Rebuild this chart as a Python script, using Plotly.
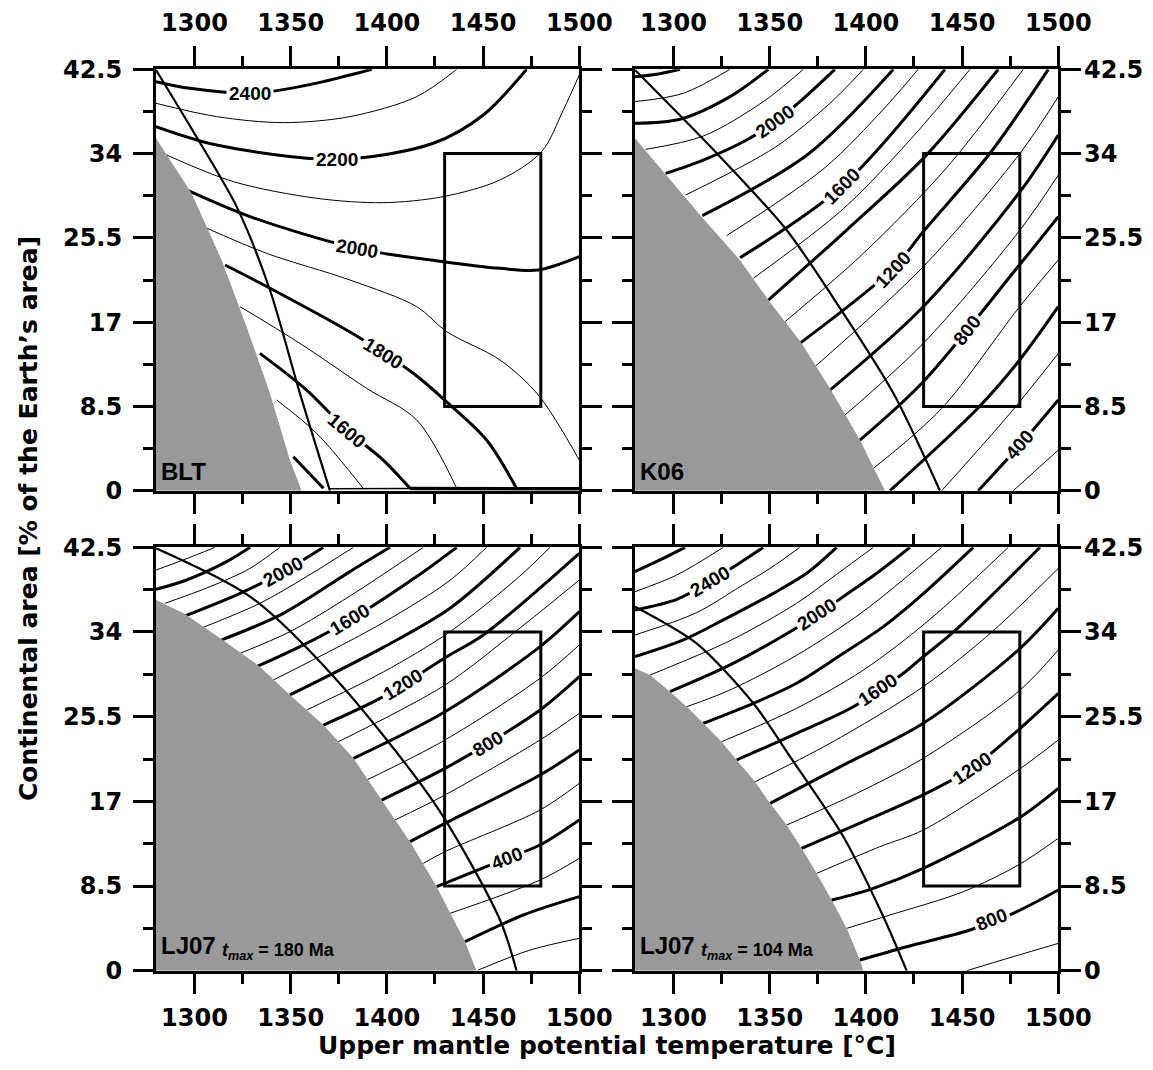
import plotly.graph_objects as go

# ---------------- axes ----------------
T_RANGE = [1280, 1500]
A_RANGE = [0, 42.5]
T_TICKS = [1300, 1350, 1400, 1450, 1500]
T_MINOR = [1325, 1375, 1425, 1475]
A_TICKS = [0, 8.5, 17, 25.5, 34, 42.5]
A_TICK_TEXT = ["0", "8.5", "17", "25.5", "34", "42.5"]
A_MINOR = [4.25, 12.75, 21.25, 29.75, 38.25]

BOX_T = [1430, 1480]
BOX_A = [8.5, 34]

# ---------------- BLT ----------------
BLT_GREY_T = [1280, 1298.5, 1314.1, 1327.1, 1339.2, 1349.6, 1355.7]
BLT_GREY_A = [35.54, 29.99, 23.27, 16.54, 9.82, 3.09, 0]
BLT_CURVE_T = [1280, 1299.4, 1321.9, 1339.2, 1354.8, 1370.4]
BLT_CURVE_A = [42.43, 36.21, 28.65, 20.24, 9.82, 0]
BLT_CONTOURS = {
    2400: ([1280, 1297.7, 1328.9, 1342.7, 1367.0, 1392.1], [41.26, 40.58, 40.08, 40.35, 41.26, 42.5]),
    2300: ([1280, 1311.5, 1346.2, 1380.8, 1415.5, 1436.3], [39.07, 37.73, 37.12, 37.73, 39.74, 42.5]),
    2200: ([1280, 1311.5, 1373.9, 1424.1, 1450.1, 1472.6], [36.72, 34.87, 33.42, 35.04, 37.89, 42.5]),
    2100: ([1285.5, 1320.2, 1363.5, 1398.1, 1429.3, 1458.8, 1480.4, 1491.7, 1500],
           [33.86, 31.17, 29.49, 29.05, 29.66, 31.34, 34.19, 38.40, 41.93]),
    2000: ([1295.9, 1328.9, 1384.3, 1429.3, 1458.8, 1478.7, 1500], [30.33, 27.64, 24.44, 23.10, 22.43, 22.26, 23.60]),
    1900: ([1304.6, 1337.5, 1380.8, 1415.5, 1431.1, 1458.8, 1478.7, 1500],
           [26.63, 23.94, 21.25, 18.56, 16.04, 13.18, 9.65, 3.09]),
    1800: ([1315.9, 1342.7, 1382.6, 1413.7, 1431.9, 1451.8, 1467.4], [22.76, 20.07, 15.80, 11.84, 8.81, 5.11, 0.24]),
    1700: ([1323.7, 1354.8, 1389.5, 1415.5, 1436.3], [18.56, 14.86, 10.32, 7.13, 0.24]),
    1600: ([1334.0, 1358.3, 1379.1, 1398.1, 1412.0], [13.85, 10.15, 6.12, 3.09, 0.24]),
    1500: ([1342.7, 1363.5, 1387.7], [9.15, 5.78, 0.24]),
    1400: ([1351.4, 1367.0], [3.43, 0.24]),
}
# contours crowding along the zero-area edge
BLT_BASE_THIN_T = [1370.4, 1412.0]
BLT_BASE_THIN_A = [0.2, 0.22]
BLT_BASE_THICK_T = [1412.0, 1467.4, 1500]
BLT_BASE_THICK_A = [0.22, 0.25, 0.2]
BLT_LABELS = [("2400", 1328.9, 40.08, 0), ("2200", 1373.9, 33.42, 0), ("2000", 1384.3, 24.44, 9),
              ("1800", 1398.1, 13.85, 32), ("1600", 1379.1, 6.12, 40)]

# ---------------- K06 ----------------
K06_GREY_T = [1280, 1295.6, 1314.6, 1334.5, 1349.3, 1366.6, 1381.3, 1396.9, 1409.9]
K06_GREY_A = [35.54, 32.0, 27.64, 23.27, 19.23, 14.86, 10.32, 5.11, 0]
K06_CURVE_T = [1280, 1324.2, 1358.8, 1388.3, 1414.3, 1438.5]
K06_CURVE_A = [42.43, 33.69, 26.29, 17.89, 9.82, 0]
K06_CONTOURS = {
    2400: ([1280, 1291.3, 1303.4], [41.76, 42.0, 42.5]),
    2300: ([1280, 1305.1, 1329.4], [39.24, 40.08, 42.5]),
    2200: ([1280, 1303.4, 1329.4, 1349.3], [37.05, 37.46, 39.74, 42.5]),
    2100: ([1285.5, 1315.5, 1346.7, 1367.5], [34.43, 35.77, 39.24, 42.5]),
    2000: ([1295.9, 1315.5, 1338.0, 1352.8, 1365.7, 1383.9], [32.01, 33.35, 35.37, 37.22, 39.24, 42.5]),
    1900: ([1306.3, 1352.8, 1381.3, 1398.7], [29.82, 34.63, 39.07, 42.5]),
    1800: ([1315.0, 1370.1, 1414.3], [27.74, 33.96, 42.5]),
    1700: ([1327.6, 1378.7, 1409.1, 1427.2], [25.72, 32.58, 38.47, 42.5]),
    1600: ([1334.6, 1387.4, 1441.1], [23.50, 30.66, 42.5]),
    1500: ([1341.5, 1388.3, 1424.6, 1454.1], [21.42, 28.44, 35.74, 42.5]),
    1400: ([1349.3, 1390.0, 1430.7, 1468.8], [19.23, 26.29, 33.69, 42.5]),
    1300: ([1358.0, 1398.7, 1442.0, 1481.8], [17.05, 23.94, 32.58, 42.5]),
    1200: ([1365.7, 1414.3, 1429.8, 1464.5, 1494.8], [14.86, 22.43, 26.13, 34.03, 42.5]),
    1100: ([1373.5, 1429.8, 1480.1, 1500], [12.51, 22.59, 34.03, 39.74]),
    1000: ([1381.3, 1429.8, 1480.1, 1500], [10.15, 18.56, 30.16, 35.88]),
    900: ([1389.1, 1429.8, 1480.1, 1500], [7.63, 14.86, 26.29, 31.84]),
    800: ([1396.9, 1429.8, 1478.4, 1500], [5.11, 10.99, 22.43, 27.64]),
    700: ([1403.9, 1439.4, 1479.2, 1500], [2.25, 8.30, 18.39, 23.27]),
    600: ([1412.5, 1458.4, 1479.2, 1500], [0, 8.37, 13.01, 18.56]),
    500: ([1439.4, 1474.9, 1500], [0, 7.80, 13.85]),
    400: ([1458.4, 1480.1, 1500], [0, 4.61, 9.15]),
    300: ([1476.6, 1500], [0, 4.10]),
}
K06_LABELS = [("2000", 1352.8, 37.22, -36), ("1600", 1387.4, 30.66, -45), ("1200", 1414.3, 22.3, -47),
              ("800", 1452.4, 16.2, -52), ("400", 1480.1, 4.61, -49)]

# ---------------- LJ07, t_max = 180 Ma ----------------
L180_GREY_T = [1280, 1295.1, 1314.1, 1334.0, 1349.6, 1367.0, 1382.6, 1397.3, 1412.0, 1425.9, 1440.6, 1446.6]
L180_GREY_A = [37.21, 35.81, 33.26, 30.52, 27.68, 24.66, 21.32, 17.13, 12.95, 8.43, 2.91, 0]
L180_CURVE_T = [1280, 1328.9, 1373.9, 1425.9, 1458.8, 1467.4]
L180_CURVE_A = [42.40, 37.55, 29.18, 16.47, 5.09, 0]
L180_CONTOURS = {
    2300: ([1280, 1294.2, 1310.7], [40.22, 41.23, 42.5]),
    2200: ([1280, 1295.9, 1316.7, 1328.9], [38.28, 39.22, 41.06, 42.5]),
    2100: ([1284.7, 1308.1, 1328.9, 1344.4], [36.88, 38.55, 40.39, 42.5]),
    2000: ([1295.1, 1323.7, 1346.2, 1367.0], [35.61, 37.88, 40.06, 42.5]),
    1900: ([1304.6, 1334.0, 1358.3, 1382.6], [34.47, 36.88, 39.56, 42.5]),
    1800: ([1314.1, 1346.2, 1380.8, 1401.6], [33.20, 35.87, 40.06, 42.5]),
    1700: ([1323.7, 1349.6, 1380.8, 1418.9], [31.86, 34.03, 37.61, 42.5]),
    1600: ([1332.3, 1354.8, 1380.8, 1415.5, 1436.3], [30.52, 32.53, 35.21, 39.56, 42.5]),
    1500: ([1341.0, 1398.1, 1432.8, 1451.8], [29.18, 34.94, 39.19, 42.5]),
    1400: ([1349.6, 1398.1, 1432.8, 1469.2], [27.68, 32.46, 36.38, 42.5]),
    1300: ([1358.3, 1398.1, 1432.8, 1467.4, 1484.8], [26.17, 29.98, 34.03, 39.32, 42.5]),
    1200: ([1367.0, 1398.1, 1431.1, 1450.1, 1500], [24.66, 27.51, 31.52, 33.70, 41.90]),
    1100: ([1374.8, 1430.2, 1467.4, 1500], [22.99, 28.68, 34.13, 39.22]),
    1000: ([1382.6, 1430.2, 1479.6, 1500], [21.32, 26.00, 32.53, 36.04]),
    900: ([1389.5, 1430.2, 1479.6, 1500], [19.14, 23.16, 29.35, 32.70]),
    800: ([1397.3, 1430.2, 1452.7, 1479.6, 1500], [17.13, 20.31, 22.82, 26.17, 29.52]),
    700: ([1404.2, 1430.2, 1479.6, 1500], [15.13, 17.64, 23.16, 25.83]),
    600: ([1412.0, 1430.2, 1479.6, 1500], [12.95, 14.79, 19.64, 22.15]),
    500: ([1418.9, 1430.2, 1479.6, 1500], [10.78, 11.95, 16.13, 18.81]),
    400: ([1425.9, 1462.2, 1479.6, 1500], [8.43, 11.28, 12.62, 15.13]),
    300: ([1432.8, 1479.6, 1500], [5.76, 9.10, 11.28]),
    200: ([1440.6, 1470.9, 1500], [2.91, 5.59, 7.43]),
    100: ([1447.5, 1474.4, 1500], [0.07, 2.07, 3.25]),
}
L180_LABELS = [("2000", 1346.2, 40.06, -29), ("1600", 1380.8, 35.21, -31), ("1200", 1408.5, 28.68, -32),
               ("800", 1452.7, 22.82, -31), ("400", 1462.2, 11.28, -21)]

# ---------------- LJ07, t_max = 104 Ma ----------------
L104_GREY_T = [1280, 1287.8, 1298.2, 1306.9, 1315.5, 1325.0, 1332.8, 1342.4, 1350.2, 1358.8, 1366.6,
               1374.4, 1382.2, 1390.0, 1396.9, 1398.7]
L104_GREY_A = [30.35, 29.68, 28.01, 26.50, 24.83, 22.99, 21.15, 18.97, 16.80, 14.62, 12.28,
               9.77, 7.09, 4.25, 1.07, 0]
L104_CURVE_T = [1280, 1312.0, 1341.5, 1360.6, 1388.3, 1409.1, 1421.2]
L104_CURVE_A = [36.54, 32.86, 26.84, 21.48, 13.45, 5.42, 0]
L104_CONTOURS = {
    2600: ([1280, 1293.0, 1306.0], [40.06, 41.23, 42.5]),
    2500: ([1280, 1301.7, 1325.9], [38.05, 39.72, 42.5]),
    2400: ([1280, 1301.7, 1319.0, 1334.6, 1346.7], [36.21, 37.28, 39.05, 40.96, 42.5]),
    2300: ([1280, 1312.0, 1334.6, 1350.2, 1365.7], [33.70, 35.94, 38.55, 40.39, 42.5]),
    2200: ([1280, 1305.1, 1325.9, 1351.9, 1369.2, 1384.8], [31.52, 33.20, 35.21, 37.88, 39.89, 42.5]),
    2100: ([1287.8, 1329.4, 1364.0, 1384.8, 1403.9], [29.68, 33.13, 36.88, 39.79, 42.5]),
    2000: ([1298.2, 1329.4, 1360.6, 1374.4, 1388.3, 1405.6, 1422.9], [28.01, 30.69, 34.03, 35.71, 37.55, 39.89, 42.5]),
    1900: ([1306.9, 1329.4, 1364.0, 1398.7, 1439.4], [26.50, 28.18, 31.66, 36.07, 42.5]),
    1800: ([1315.5, 1341.5, 1364.0, 1388.3, 1409.1, 1428.1, 1455.8], [24.83, 26.84, 28.85, 31.86, 34.54, 37.55, 42.5]),
    1700: ([1325.0, 1364.0, 1398.7, 1433.3, 1474.0], [22.99, 26.34, 30.18, 35.27, 42.5]),
    1600: ([1332.8, 1364.0, 1393.5, 1419.5, 1429.8, 1446.3, 1490.5], [21.15, 23.83, 26.50, 29.85, 31.52, 34.13, 42.5]),
    1500: ([1342.4, 1381.3, 1429.8, 1466.2, 1500], [18.97, 22.82, 28.51, 34.13, 40.39]),
    1400: ([1350.2, 1390.0, 1429.8, 1479.2, 1500], [16.80, 20.81, 24.83, 32.19, 36.38]),
    1300: ([1358.8, 1395.2, 1429.8, 1479.2, 1500], [14.62, 17.80, 21.32, 28.01, 32.19]),
    1200: ([1366.6, 1398.7, 1429.8, 1455.0, 1479.2, 1500], [12.28, 14.96, 17.64, 20.31, 24.16, 27.84]),
    1100: ([1374.4, 1407.3, 1429.8, 1479.2, 1500], [9.77, 12.45, 14.12, 20.15, 23.16]),
    1000: ([1382.2, 1403.9, 1429.8, 1479.2, 1500], [7.09, 8.27, 10.27, 15.29, 18.31]),
    900: ([1390.0, 1412.5, 1450.6, 1479.2, 1500], [4.25, 5.59, 7.93, 10.61, 13.29]),
    800: ([1396.9, 1421.2, 1454.1, 1476.6, 1500], [1.07, 2.41, 4.08, 5.76, 8.10]),
    700: ([1452.4, 1476.6, 1500], [0, 1.41, 2.74]),
}
L104_LABELS = [("2400", 1319.0, 39.05, -30), ("2000", 1374.4, 35.71, -33), ("1600", 1406.5, 28.18, -34),
               ("1200", 1455.0, 20.31, -34), ("800", 1465.4, 5.09, -21)]

PANEL_NAMES = ["BLT", "K06", "LJ07", "LJ07"]
TMAX_TEXT = [None, None, "180 Ma", "104 Ma"]

X_TITLE = "Upper mantle potential temperature [°C]"
Y_TITLE = "Continental area [% of the Earth’s area]"

# ---------------- layout geometry ----------------
# the page body keeps an 8 px margin, so the figure is 16 px smaller than the window
PAGE_PAD = 8
W, H = 1153 - 2 * PAGE_PAD, 1070 - 2 * PAGE_PAD
COLS = [(156 - PAGE_PAD, 579.3 - PAGE_PAD), (635 - PAGE_PAD, 1058.3 - PAGE_PAD)]
ROWS = [(69.3 - PAGE_PAD, 490.7 - PAGE_PAD), (547.3 - PAGE_PAD, 970.7 - PAGE_PAD)]

TICK_FONT = dict(family="DejaVu Sans", size=24, color="black", weight="bold")
TITLE_FONT = dict(family="DejaVu Sans", size=25, color="black", weight="bold")
LABEL_FONT = dict(family="Liberation Sans", size=19, color="black", weight="bold")
PANEL_FONT = dict(family="Liberation Sans", size=24, color="black", weight="bold")

fig = go.Figure()

panels = [
    (BLT_CONTOURS, BLT_LABELS, BLT_GREY_T, BLT_GREY_A, BLT_CURVE_T, BLT_CURVE_A),
    (K06_CONTOURS, K06_LABELS, K06_GREY_T, K06_GREY_A, K06_CURVE_T, K06_CURVE_A),
    (L180_CONTOURS, L180_LABELS, L180_GREY_T, L180_GREY_A, L180_CURVE_T, L180_CURVE_A),
    (L104_CONTOURS, L104_LABELS, L104_GREY_T, L104_GREY_A, L104_CURVE_T, L104_CURVE_A),
]

annotations = []
shapes = []
layout_axes = {}

for i, (contours, labels, gt, ga, ct, ca) in enumerate(panels):
    r, c = divmod(i, 2)
    n = "" if i == 0 else str(i + 1)
    xa, ya = "x" + n, "y" + n
    for level, (t, a) in contours.items():
        fig.add_trace(go.Scatter(
            x=t, y=a, mode="lines", xaxis=xa, yaxis=ya, hoverinfo="skip", showlegend=False,
            line=dict(color="black", width=3 if level % 200 == 0 else 1, shape="spline", smoothing=0.9)))
    if i == 0:
        fig.add_trace(go.Scatter(x=BLT_BASE_THIN_T, y=BLT_BASE_THIN_A, mode="lines", xaxis=xa, yaxis=ya,
                                 hoverinfo="skip", showlegend=False, line=dict(color="black", width=1.5)))
        fig.add_trace(go.Scatter(x=BLT_BASE_THICK_T, y=BLT_BASE_THICK_A, mode="lines", xaxis=xa, yaxis=ya,
                                 hoverinfo="skip", showlegend=False, line=dict(color="black", width=3.5)))
    fig.add_trace(go.Scatter(
        x=gt + [T_RANGE[0]], y=ga + [A_RANGE[0]], mode="lines", fill="toself",
        fillcolor="#999999", line=dict(width=0, color="#999999"),
        xaxis=xa, yaxis=ya, hoverinfo="skip", showlegend=False))
    fig.add_trace(go.Scatter(
        x=ct, y=ca, mode="lines", xaxis=xa, yaxis=ya, hoverinfo="skip", showlegend=False,
        line=dict(color="black", width=2.2, shape="spline", smoothing=0.8)))
    shapes.append(dict(type="rect", xref=xa, yref=ya, x0=BOX_T[0], x1=BOX_T[1], y0=BOX_A[0], y1=BOX_A[1],
                       line=dict(color="black", width=3), layer="above"))
    for txt, t, a, ang in labels:
        annotations.append(dict(x=t, y=a, xref=xa, yref=ya, text=txt, textangle=ang, showarrow=False,
                                font=LABEL_FONT, bgcolor="white", borderpad=2))
    annotations.append(dict(x=1281.5, y=0.4 if TMAX_TEXT[i] is None else 1.0, xref=xa, yref=ya,
                            text=PANEL_NAMES[i], showarrow=False, xanchor="left", yanchor="bottom",
                            font=PANEL_FONT))
    if TMAX_TEXT[i]:
        annotations.append(dict(x=1313.5, y=0.6, xref=xa, yref=ya,
                                text="<i>t</i><sub><i>max</i></sub> = " + TMAX_TEXT[i],
                                showarrow=False, xanchor="left", yanchor="bottom",
                                font=dict(family="Liberation Sans", size=18, color="black", weight="bold")))
    x0, x1 = COLS[c]
    y0, y1 = ROWS[r]
    common = dict(showline=True, linewidth=3, linecolor="black", mirror="ticks",
                  ticks="outside", ticklen=20, tickwidth=3, tickcolor="black", tickmode="array",
                  showgrid=False, zeroline=False, tickfont=TICK_FONT,
                  fixedrange=True, automargin=False)
    layout_axes["xaxis" + n] = dict(
        domain=[x0 / W, x1 / W], range=T_RANGE, anchor=ya, side="top" if r == 0 else "bottom",
        tickvals=T_TICKS, ticktext=[str(v) for v in T_TICKS], ticklabelstandoff=6 if r == 0 else 3,
        minor=dict(tickmode="array", tickvals=T_MINOR, ticks="outside", ticklen=10, tickwidth=3,
                   tickcolor="black", showgrid=False), **common)
    layout_axes["yaxis" + n] = dict(
        domain=[1 - y1 / H, 1 - y0 / H], range=A_RANGE, anchor=xa, side="left" if c == 0 else "right",
        tickvals=A_TICKS, ticktext=A_TICK_TEXT, ticklabelstandoff=6 if c == 0 else -2,
        minor=dict(tickmode="array", tickvals=A_MINOR, ticks="outside", ticklen=10, tickwidth=3,
                   tickcolor="black", showgrid=False), **common)

annotations.append(dict(x=(607 - PAGE_PAD) / W, y=0, xref="paper", yref="paper",
                        text=X_TITLE, showarrow=False, font=TITLE_FONT, xanchor="center", yanchor="bottom"))
annotations.append(dict(x=(28 - PAGE_PAD) / W, y=1 - (519 - PAGE_PAD) / H, xref="paper", yref="paper",
                        text=Y_TITLE, textangle=-90, showarrow=False, font=TITLE_FONT,
                        xanchor="center", yanchor="middle"))

fig.update_layout(
    width=W, height=H, margin=dict(l=0, r=0, t=0, b=0, autoexpand=False),
    paper_bgcolor="white", plot_bgcolor="white",
    showlegend=False, annotations=annotations, shapes=shapes, **layout_axes)

fig.write_html("out.html")
